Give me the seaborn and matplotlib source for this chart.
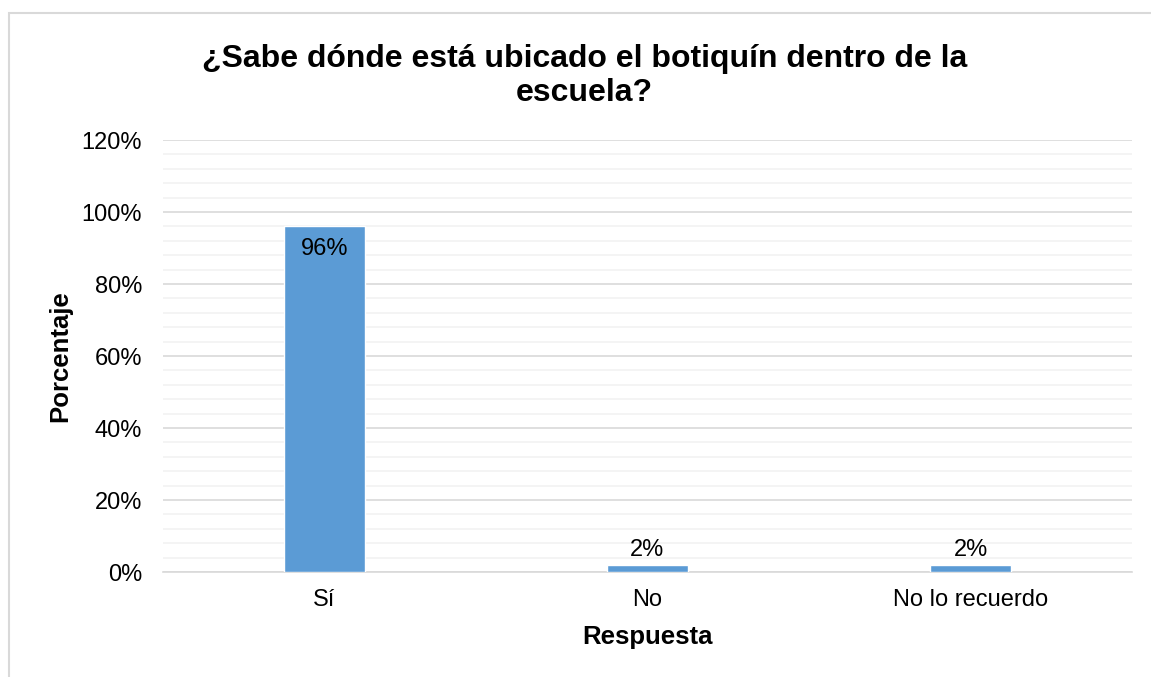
import matplotlib
matplotlib.use("Agg")
import matplotlib.pyplot as plt
import seaborn as sns
import pandas as pd
import numpy as np
from matplotlib.ticker import FuncFormatter, MultipleLocator
from matplotlib.patches import Rectangle

categories = ["Sí", "No", "No lo recuerdo"]
values = [0.96, 0.02, 0.02]
labels = ["96%", "2%", "2%"]
yticks = [0, 0.2, 0.4, 0.6, 0.8, 1.0, 1.2]

sns.set_theme(style="white")
plt.rcParams['font.family'] = ['Liberation Sans', 'DejaVu Sans']
plt.rcParams['text.color'] = '#000000'
plt.rcParams['axes.labelcolor'] = '#000000'

df = pd.DataFrame({"Respuesta": categories, "Porcentaje": values})

fig = plt.figure(figsize=(11.51, 6.77), dpi=100)
ax = fig.add_axes([0.1416, 0.155, 0.9835 - 0.1416, 0.7932 - 0.155])

sns.barplot(data=df, x="Respuesta", y="Porcentaje", color="#5B9BD5", width=0.248,
            saturation=1, ax=ax, zorder=3)

ax.set_ylim(0, 1.2)
ax.set_yticks(yticks)
ax.yaxis.set_major_formatter(FuncFormatter(lambda v, p: f"{v*100:.0f}%"))
ax.yaxis.set_minor_locator(MultipleLocator(0.04))
ax.grid(axis='y', which='major', color='#D9D9D9', linewidth=1.2, zorder=0)
ax.grid(axis='y', which='minor', color='#F2F2F2', linewidth=1.2, zorder=0)
ax.set_axisbelow(True)
for s in ['left', 'right', 'top']:
    ax.spines[s].set_visible(False)
ax.spines['bottom'].set_color('#D9D9D9')
ax.spines['bottom'].set_linewidth(1.2)
ax.tick_params(axis='both', which='both', length=0, labelsize=17, labelcolor='#000000')
ax.tick_params(axis='y', pad=15)
ax.tick_params(axis='x', pad=12)

ax.set_xlabel("Respuesta", fontsize=18.5, fontweight='bold', labelpad=10, color='#000000')
ax.set_ylabel("Porcentaje", fontsize=18.5, fontweight='bold', labelpad=7, color='#000000')

for i, (v, t) in enumerate(zip(values, labels)):
    if v > 0.5:
        ax.annotate(t, (i, v), xytext=(0, -8), textcoords='offset points',
                    ha='center', va='top', fontsize=17, color='#000000')
    else:
        ax.annotate(t, (i, v), xytext=(0, 3), textcoords='offset points',
                    ha='center', va='bottom', fontsize=17, color='#000000')

fig.text(0.508, 0.888, "¿Sabe dónde está ubicado el botiquín dentro de la\nescuela?",
         ha='center', va='center', fontsize=23, fontweight='bold', linespacing=1.2,
         color='#000000')

fig.patches.append(Rectangle((9/1151, -0.05), 1.2, 1 - 13/677 + 0.05, transform=fig.transFigure,
                             fill=False, edgecolor='#D9D9D9', linewidth=1.5))

fig.savefig("out.png", dpi=100)
